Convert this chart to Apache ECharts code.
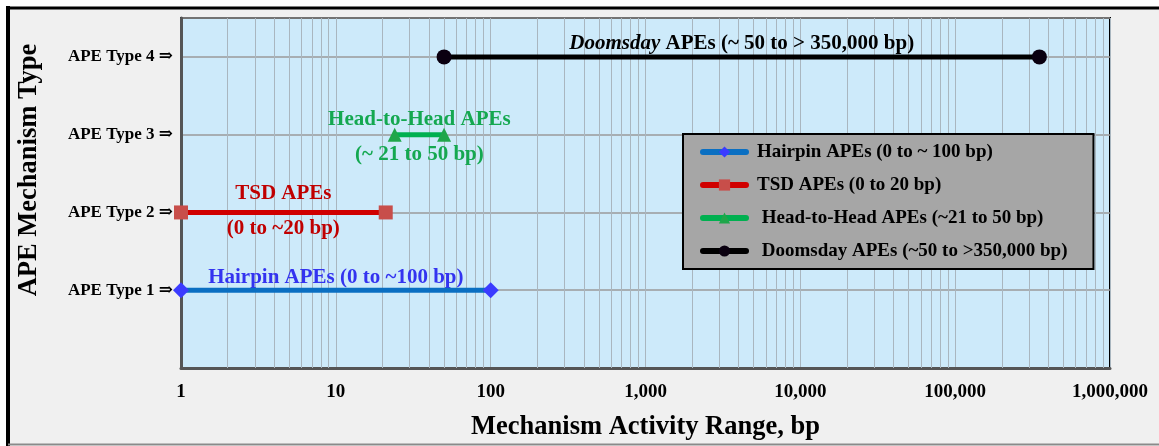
<!DOCTYPE html>
<html>
<head>
<meta charset="utf-8">
<script src="https://cdn.jsdelivr.net/npm/echarts@6/dist/echarts.min.js"></script>
<style>
  html, body { margin: 0; padding: 0; background: #ffffff; }
  #chart { width: 1159px; height: 446px; }
</style>
</head>
<body>
<div id="chart"></div>
<script>
// APE mechanism types and the size range (bp) over which each one acts
const seriesNames = [
  'Hairpin APEs (0 to ~ 100 bp)',
  'TSD APEs (0 to 20 bp)',
  ' Head-to-Head APEs (~21 to 50 bp)',
  ' Doomsday APEs (~50 to >350,000 bp)'
];
const typeLevels = [1, 2, 3, 4];
const typeLabels = ['APE Type 1 \u21D2', 'APE Type 2 \u21D2', 'APE Type 3 \u21D2', 'APE Type 4 \u21D2'];
const rangeStart = [1, 1, 24, 50];
const rangeEnd = [100, 21, 50, 350000];
const labelAbove = [
  'Hairpin APEs (0 to ~100 bp)',
  'TSD APEs',
  'Head-to-Head APEs',
  '{i|Doomsday} APEs (~ 50 to > 350,000 bp)'
];
const labelBelow = ['', '(0 to ~20 bp)', '(~ 21 to 50 bp)', ''];

// styling per series
const lineColors = ['#0a6fc2', '#d00000', '#00b050', '#000000'];
const markerColors = ['#3b3bff', '#c84e4a', '#1fa64a', '#0a0010'];
const textColors = ['#3333f0', '#c00000', '#14a850', '#000000'];
const markerShapes = ['diamond', 'rect', 'triangle', 'circle'];
const markerSizes = [16, 14, 14, 15];
const gapAbove = [2, 8, 5, 3];
const gapBelow = [0, 6, 9, 0];

const serif = "'Liberation Serif', 'Times New Roman', 'DejaVu Serif', serif";
const AX_MIN = 1, AX_MAX = 1000000;

// minor log gridlines (2..9 within each decade)
const minorGrid = [];
for (let d = AX_MIN; d < AX_MAX; d *= 10) {
  for (let m = 2; m <= 9; m++) minorGrid.push({ xAxis: m * d });
}

const series = [{
  type: 'line',
  data: [],
  silent: true,
  z: 1,
  markLine: {
    silent: true,
    z: 1,
    symbol: 'none',
    label: { show: false },
    lineStyle: { color: '#a9b6bf', width: 1, type: 'solid' },
    animation: false,
    data: minorGrid
  }
}];

typeLevels.forEach((lvl, i) => {
  const mid = Math.sqrt(rangeStart[i] * rangeEnd[i]);
  const marks = [{
    coord: [mid, lvl],
    label: { position: 'top', distance: gapAbove[i], formatter: labelAbove[i] }
  }];
  if (labelBelow[i]) {
    marks.push({
      coord: [mid, lvl],
      label: { position: 'bottom', distance: gapBelow[i], formatter: labelBelow[i] }
    });
  }
  series.push({
    name: seriesNames[i],
    type: 'line',
    z: 3,
    data: [[rangeStart[i], lvl], [rangeEnd[i], lvl]],
    symbol: markerShapes[i],
    symbolSize: markerSizes[i],
    showAllSymbol: true,
    lineStyle: { color: lineColors[i], width: 5 },
    itemStyle: { color: markerColors[i] },
    color: lineColors[i],
    animation: false,
    markPoint: {
      symbol: 'circle',
      symbolSize: 0,
      silent: true,
      z: 3,
      animation: false,
      label: {
        show: true,
        color: textColors[i],
        fontFamily: serif,
        fontWeight: 'bold',
        fontSize: 21,
        rich: { i: { fontStyle: 'italic', fontFamily: serif, fontWeight: 'bold', fontSize: 21, color: textColors[i] } }
      },
      data: marks
    }
  });
});

const chart = echarts.init(document.getElementById('chart'), null, { renderer: 'canvas' });
chart.setOption({
  animation: false,
  backgroundColor: '#ffffff',
  graphic: [
    { type: 'rect', shape: { x: 8, y: 8, width: 1160, height: 436 }, style: { fill: '#f0f0f0' }, z: -10 },
    { type: 'line', shape: { x1: 8, y1: 6, x2: 8, y2: 446 }, style: { stroke: '#000', lineWidth: 4 }, z: -9 },
    { type: 'line', shape: { x1: 6, y1: 8, x2: 1159, y2: 8 }, style: { stroke: '#000', lineWidth: 3 }, z: -9 },
    { type: 'line', shape: { x1: 8, y1: 444.5, x2: 1159, y2: 444.5 }, style: { stroke: '#8a8a8a', lineWidth: 2 }, z: -9 }
  ],
  grid: {
    left: 181, right: 49, top: 18, bottom: 73,
    show: true,
    backgroundColor: '#cdeafa',
    borderColor: '#000000',
    borderWidth: 2
  },
  legend: {
    orient: 'vertical',
    left: 683,
    top: 134,
    z: 20,
    backgroundColor: '#a6a6a6',
    borderColor: '#000000',
    borderWidth: 2,
    padding: [8, 26, 8, 17],
    itemWidth: 43,
    itemHeight: 14,
    itemGap: 13,
    selectedMode: false,
    data: seriesNames,
    lineStyle: { width: 6, cap: 'round' },
    textStyle: {
      color: '#000000',
      fontFamily: serif,
      fontWeight: 'bold',
      fontSize: 19,
      lineHeight: 20,
      padding: [0, 0, 0, 6]
    }
  },
  xAxis: {
    type: 'log',
    logBase: 10,
    min: AX_MIN,
    max: AX_MAX,
    name: 'Mechanism Activity Range, bp',
    nameLocation: 'middle',
    nameGap: 46,
    nameTextStyle: { color: '#000', fontFamily: serif, fontWeight: 'bold', fontSize: 26.5 },
    axisLine: { show: true, lineStyle: { color: '#555555', width: 3 } },
    axisTick: { show: false },
    axisLabel: {
      margin: 15,
      color: '#000',
      fontFamily: serif,
      fontWeight: 'bold',
      fontSize: 19,
      formatter: v => Number(v).toLocaleString('en-US')
    },
    splitLine: { show: true, lineStyle: { color: '#a9b6bf', width: 1 } }
  },
  yAxis: {
    type: 'value',
    min: 0,
    max: 4.5,
    interval: 1,
    name: 'APE Mechanism Type',
    nameLocation: 'middle',
    nameRotate: 90,
    nameGap: 138,
    nameTextStyle: { color: '#000', fontFamily: serif, fontWeight: 'bold', fontSize: 26.5, padding: [0, 0, 0, 46] },
    axisLine: { show: true, lineStyle: { color: '#555555', width: 3 } },
    axisTick: { show: false },
    axisLabel: {
      margin: 8,
      color: '#000',
      fontFamily: serif,
      fontWeight: 'bold',
      fontSize: 17,
      formatter: v => (Number.isInteger(v) && v >= 1 && v <= 4) ? typeLabels[v - 1] : ''
    },
    splitLine: { show: true, lineStyle: { color: '#9a9a9a', width: 1.5 } }
  },
  series: series
});
</script>
</body>
</html>
